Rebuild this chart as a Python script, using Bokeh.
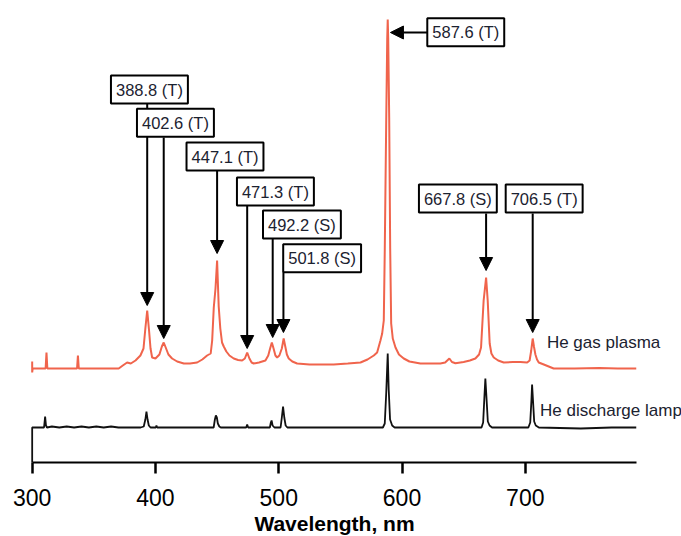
from bokeh.plotting import figure
from bokeh.models import Label, Arrow, NormalHead, FixedTicker, Range1d
from bokeh.embed import file_html
from bokeh.resources import INLINE

# ---- data: He gas plasma spectrum (wavelength nm, relative intensity a.u.)
plasma_wl = [300.0, 300.0, 300.4, 310.9, 311.6, 312.3, 336.4, 337.1, 337.8, 370.2,
             373.5, 377.0, 380.0, 383.8, 387.8, 390.3, 391.8, 393.3, 394.8, 396.0,
             397.3, 400.0, 403.2, 405.2, 406.7, 408.3, 410.5, 413.5, 417.6, 423.0,
             428.0, 433.8, 438.0, 441.9, 444.8, 446.0, 447.3, 448.7, 450.0, 451.3,
             452.6, 454.0, 455.4, 457.5, 460.0, 463.5, 467.0, 470.3, 472.5, 474.4,
             476.2, 478.0, 479.7, 484.0, 489.2, 491.5, 493.0, 494.4, 495.8, 497.3,
             498.7, 500.5, 502.5, 504.0, 505.3, 506.6, 508.1, 511.0, 514.9, 525.0,
             544.6, 556.0, 566.3, 572.0, 577.1, 579.8, 582.5, 583.9, 585.2, 586.0,
             587.2, 588.0, 588.4, 588.8, 589.6, 590.4, 591.2, 592.5, 594.7, 597.5,
             601.4, 606.0, 614.9, 631.1, 635.0, 638.4, 640.5, 643.3, 650.0, 655.0,
             659.5, 662.5, 664.1, 666.2, 668.2, 669.5, 671.1, 672.5, 674.4, 678.0,
             682.5, 690.0, 696.0, 701.5, 703.5, 704.8, 706.0, 707.0, 708.2, 709.5,
             710.9, 715.0, 719.0, 723.0, 740.0, 760.0, 775.0, 790.0]
plasma_int = [7, -4, 0, 0, 16, 0, 0, 13, 0, 0,
              3, 6, 5, 8, 13, 20, 40, 58, 38, 20,
              11, 10, 14, 22, 26, 21, 14, 10, 7, 5,
              5, 6, 9, 13, 15, 28, 61, 80, 108, 62,
              40, 26, 22, 17, 13, 10, 8.5, 8, 10, 16,
              10, 6, 5, 6, 8, 13, 20, 26, 20, 13,
              11, 13, 20, 30, 22, 14, 10, 7, 5, 4,
              4, 5, 6, 9, 13, 16, 28, 35, 48, 118,
              250, 330, 349, 330, 250, 120, 45, 30, 21, 14,
              10, 7, 5, 5, 6, 10, 6.5, 5.3, 6.5, 8,
              10, 14, 21, 68, 91, 68, 25, 15, 11, 8,
              6, 6.5, 6.5, 6, 8, 18, 30, 22, 14, 9,
              6, 4, 2, 0, 0, 0.5, 0, 0]

# ---- data: He discharge lamp spectrum
lamp_wl = [300.0, 300.0, 304.0, 309.6, 310.5, 311.2, 312.0, 316.0, 322.0, 328.0,
           334.0, 340.0, 346.0, 352.0, 358.0, 364.0, 370.0, 388.0, 390.5, 391.8,
           392.7, 393.6, 394.6, 396.0, 400.3, 400.8, 401.4, 447.2, 448.2, 449.0,
           449.8, 450.6, 451.8, 453.0, 473.6, 474.4, 475.2, 492.8, 493.6, 494.2,
           495.0, 496.5, 501.5, 502.5, 503.5, 504.5, 505.6, 507.0, 545.0, 584.5,
           586.0, 587.2, 588.4, 589.2, 590.3, 592.0, 594.0, 664.5, 665.8, 666.8,
           667.6, 668.5, 669.6, 671.0, 673.0, 702.5, 704.0, 705.0, 705.5, 706.2,
           707.2, 708.5, 711.0, 745.0, 770.0, 790.0]
lamp_int = [-35, 0, 0, 0, 11, 2, 0, 1, 0, 1,
            0, 1, 0, 1, 0, 1, 0, 0, 1, 8,
            16, 8, 2, 0, 0, 2, 0, 0, 8, 12,
            10, 4, 1, 0, 0, 3, 0, 0, 5, 7,
            2, 0, 0, 10, 21, 10, 2, 0, 0, 0,
            4, 35, 74, 38, 8, 2, 0, 0, 5, 30,
            49, 30, 6, 2, 0, 0, 5, 28, 43, 28,
            6, 2, 0, -1, 0, 0]

plasma_offset = 94
lamp_offset = 35

tick_values = [300, 400, 500, 600, 700]

line_labels = ["388.8 (T)", "402.6 (T)", "447.1 (T)", "471.3 (T)", "492.2 (S)",
               "501.8 (S)", "587.6 (T)", "667.8 (S)", "706.5 (T)"]
label_x = [395.1, 416.2, 456.4, 497.3, 518.8, 535.2, 651.7, 645.3, 715.3]
label_y = [373, 339.8, 306, 271, 238, 204.2, 430.3, 264, 264]
arrow_x0 = [393.3, 406.7, 450.0, 474.4, 495.1, 503.8, 620.8, 668.2, 706.0]
arrow_x1 = [393.3, 406.7, 450.0, 474.4, 495.1, 503.8, 590.6, 668.2, 706.0]
arrow_y0 = [359, 325, 292, 257, 224, 190, 430, 249, 249]
arrow_y1 = [157, 124, 209, 114, 125, 130, 430, 192, 130]

FONT = "Liberation Sans"
TEXT_COLOR = "#1b2230"

p = figure(width=681, height=536, output_backend="svg", toolbar_location=None,
           x_range=Range1d(274.3, 826.7), y_range=Range1d(-74, 446),
           y_axis_location=None,
           min_border_left=0, min_border_right=0, min_border_top=16,
           min_border_bottom=0)
p.outline_line_color = None
p.xgrid.visible = False
p.ygrid.visible = False

p.line(plasma_wl, [v + plasma_offset for v in plasma_int],
       line_color="#f0644c", line_width=2)
p.line(lamp_wl, [v + lamp_offset for v in lamp_int],
       line_color="#111111", line_width=1.8)

ax = p.xaxis[0]
ax.fixed_location = 0
ax.bounds = (300, 790)
ax.ticker = FixedTicker(ticks=tick_values)
ax.axis_line_width = 2
ax.axis_line_color = "black"
ax.major_tick_line_width = 2.5
ax.major_tick_line_color = "black"
ax.major_tick_out = 11
ax.major_tick_in = 0
ax.minor_tick_line_color = None
ax.major_label_text_font = FONT
ax.major_label_text_font_size = "23px"
ax.major_label_text_color = "black"
ax.major_label_standoff = 15
ax.axis_label = "Wavelength, nm"
ax.axis_label_text_font = FONT
ax.axis_label_text_font_style = "bold"
ax.axis_label_text_font_size = "21px"
ax.axis_label_text_color = "black"
ax.axis_label_standoff = 3

for i in range(len(line_labels)):
    p.add_layout(Arrow(end=NormalHead(size=13, fill_color="black", line_color="black"),
                       x_start=arrow_x0[i], y_start=arrow_y0[i],
                       x_end=arrow_x1[i], y_end=arrow_y1[i],
                       line_color="black", line_width=2))

for i in range(len(line_labels)):
    p.add_layout(Label(x=label_x[i], y=label_y[i], text=line_labels[i],
                       text_align="center", text_baseline="middle",
                       text_font=FONT, text_font_size="16.5px", text_color=TEXT_COLOR,
                       background_fill_color="white", border_line_color="black",
                       border_line_width=2, padding=5))

p.add_layout(Label(x=717.5, y=120, text="He gas plasma", text_align="left",
                   text_baseline="middle", text_font=FONT, text_font_size="17px",
                   text_color=TEXT_COLOR))
p.add_layout(Label(x=712, y=52, text="He discharge lamp", text_align="left",
                   text_baseline="middle", text_font=FONT, text_font_size="17px",
                   text_color=TEXT_COLOR))

open("out.html", "w").write(file_html(p, INLINE))
